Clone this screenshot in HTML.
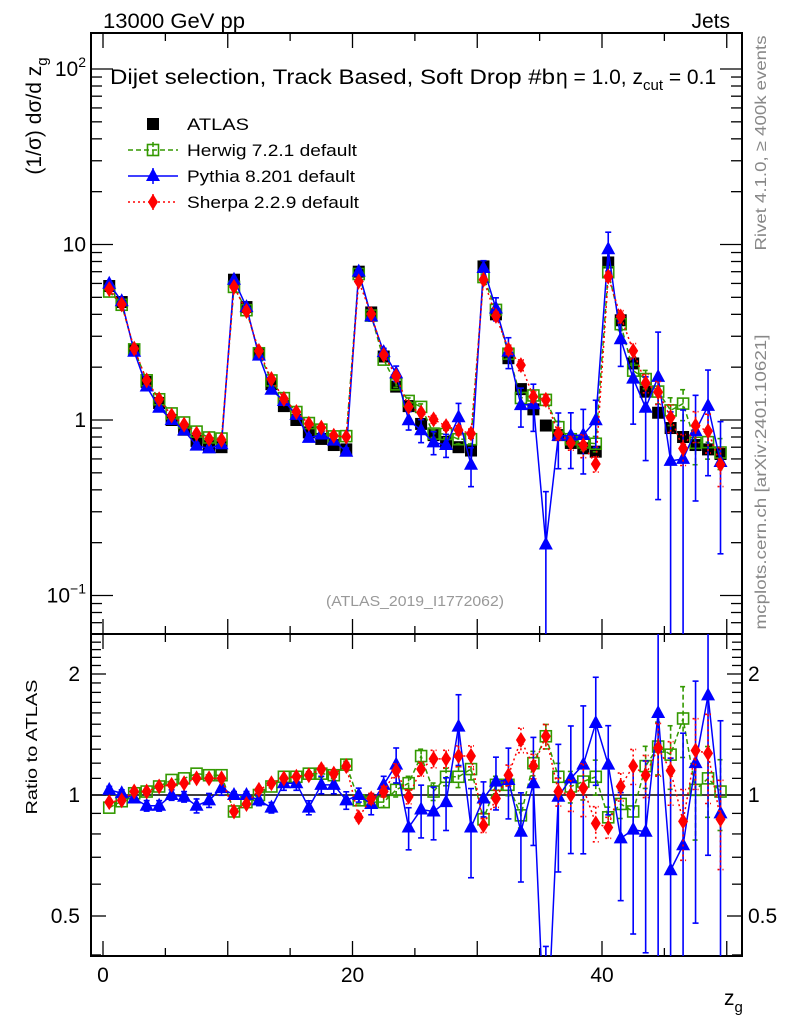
<!DOCTYPE html>
<html><head><meta charset="utf-8"><style>
html,body{margin:0;padding:0;background:#fff;overflow:hidden;width:786px;height:1024px;}
svg{display:block;font-family:"Liberation Sans",sans-serif;overflow:hidden;}
</style></head><body>
<svg id="c" width="786" height="1024" xmlns="http://www.w3.org/2000/svg"></svg>
<script>
const bins = [];
for (let i = 0; i < 50; i++) bins.push(i + 0.5);
const atlasVals = [5.8,4.7,2.5,1.65,1.25,1.0,0.88,0.76,0.71,0.70,
 6.3,4.4,2.4,1.6,1.2,1.0,0.85,0.78,0.72,0.68,
 7.0,4.1,2.3,1.55,1.2,0.95,0.82,0.75,0.70,0.67,
 7.5,4.0,2.25,1.5,1.15,0.93,0.82,0.74,0.69,0.66,
 7.9,3.7,2.1,1.45,1.1,0.9,0.8,0.72,0.68,0.64];
const herwigRatio = [0.93,0.965,1.01,1.02,1.05,1.09,1.10,1.13,1.12,1.12,
 0.91,0.96,1.0,1.05,1.11,1.11,1.13,1.13,1.12,1.19,
 0.97,0.96,0.96,1.03,1.07,1.25,1.02,1.11,1.11,1.16,
 0.87,1.06,1.06,0.89,1.2,1.40,1.11,1.05,1.08,1.11,
 0.88,0.95,0.91,1.18,1.32,1.26,1.55,1.03,1.10,1.02];
const herwigErr = [0.01,0.01,0.01,0.01,0.01,0.01,0.01,0.01,0.01,0.01,
 0.01,0.01,0.01,0.01,0.01,0.01,0.01,0.02,0.02,0.02,
 0.02,0.03,0.03,0.04,0.04,0.04,0.05,0.05,0.06,0.06,
 0.04,0.05,0.06,0.07,0.07,0.07,0.08,0.09,0.1,0.1,
 0.06,0.08,0.1,0.12,0.15,0.18,0.2,0.25,0.2,0.2];
const pythiaRatio = [1.03,1.01,0.98,0.94,0.94,1.0,0.99,0.94,0.97,1.04,
 1.0,1.0,0.97,0.93,1.07,1.07,0.93,1.06,1.06,0.97,
 1.0,0.95,1.06,1.19,0.83,0.92,0.91,0.96,1.48,0.83,
 0.98,1.08,1.09,0.81,1.07,0.21,0.99,1.10,1.19,1.51,
 1.19,0.78,0.82,0.81,1.60,0.65,0.75,1.2,1.77,0.90];
const pythiaErr = [0.02,0.02,0.02,0.03,0.03,0.03,0.03,0.04,0.04,0.04,
 0.02,0.02,0.03,0.03,0.04,0.04,0.04,0.05,0.05,0.05,
 0.04,0.06,0.05,0.1,0.12,0.15,0.15,0.15,0.2,0.25,
 0.1,0.15,0.2,0.25,0.3,1.0,0.35,0.35,0.4,0.3,
 0.25,0.3,0.45,0.5,0.8,0.9,0.9,0.6,0.6,0.7];
const sherpaRatio = [0.96,0.97,1.02,1.02,1.05,1.06,1.07,1.10,1.10,1.10,
 0.91,0.95,1.03,1.07,1.10,1.11,1.12,1.16,1.13,1.18,
 0.88,0.98,1.02,1.15,0.99,1.16,1.23,1.23,1.25,1.25,
 0.84,0.98,1.12,1.37,1.18,1.40,1.02,1.0,1.04,0.85,
 0.83,1.05,1.18,1.12,1.31,1.15,0.86,1.29,1.27,0.87];
const sherpaErr = [0.01,0.01,0.01,0.01,0.01,0.01,0.01,0.01,0.01,0.01,
 0.01,0.01,0.01,0.01,0.01,0.01,0.02,0.02,0.02,0.02,
 0.02,0.03,0.03,0.04,0.04,0.04,0.05,0.05,0.06,0.06,
 0.04,0.05,0.06,0.07,0.07,0.07,0.08,0.09,0.15,0.1,
 0.06,0.08,0.1,0.12,0.15,0.18,0.2,0.2,0.25,0.25];
const xTickLabels = [0,20,40];
const mainTickLabels = [["10","2"],["10",""],["1",""],["10","\u22121"]];
const ratioTickLabels = [2,1,0.5];

const L=91,R=742,T=33,MID=634,B=956;
const X=v=>103+12.475*v;
const Y=v=>420-175.5*Math.log10(v);
const RY=v=>795-121*Math.log2(v);
const svg=document.getElementById('c');
const NS='http://www.w3.org/2000/svg';
function mk(tag,attrs,parent){const e=document.createElementNS(NS,tag);for(const k in attrs)e.setAttribute(k,attrs[k]);(parent||svg).appendChild(e);return e;}
function txt(s,attrs,name,parent){const e=mk('text',attrs,parent);e.textContent=s;return e;}
const clampY=(y,top,bot)=>Math.max(top-1,Math.min(bot+1,y));

const defs=mk('defs',{});
const c1=mk('clipPath',{id:'cm'},defs);mk('rect',{x:L,y:T,width:R-L,height:MID-T},c1);
const c2=mk('clipPath',{id:'cr'},defs);mk('rect',{x:L,y:MID,width:R-L,height:B-MID},c2);

const f1=mk('rect',{x:L,y:T,width:R-L,height:MID-T,fill:'none',stroke:'#000','stroke-width':2});


const f2=mk('rect',{x:L,y:MID,width:R-L,height:B-MID,fill:'none',stroke:'#000','stroke-width':2});



const ticksG=mk('g',{stroke:'#000','stroke-width':1.3});


for(let d=-2;d<=2;d++){for(let m=1;m<10;m++){const v=m*Math.pow(10,d);const y=Y(v);if(y<T||y>MID)continue;const len=m===1?22:11;
mk('line',{x1:L,x2:L+len,y1:y,y2:y},ticksG);mk('line',{x1:R,x2:R-len,y1:y,y2:y},ticksG);}}
for(let v=0.4;v<=2.5;v+=0.1){const y=RY(v);if(y<MID||y>B)continue;const maj=Math.abs(v-0.5)<1e-6||Math.abs(v-1)<1e-6||Math.abs(v-2)<1e-6;const len=maj?15:10;
mk('line',{x1:L,x2:L+len,y1:y,y2:y},ticksG);mk('line',{x1:R,x2:R-len,y1:y,y2:y},ticksG);}
for(let v=0;v<=50;v+=5){const x=X(v);const len=v%10===0?15:8;
[MID,B].forEach(b=>mk('line',{x1:x,x2:x,y1:b,y2:b-len},ticksG));
mk('line',{x1:x,x2:x,y1:T,y2:T+len},ticksG);mk('line',{x1:x,x2:x,y1:MID,y2:MID+len},ticksG);}

[100,10,1,0.1].forEach((v,i)=>{const y=Y(v);const lab=mainTickLabels[i];
const t=txt('',{x:86,y:y+7,'font-size':21,'text-anchor':'end'},'y-tick-label');
const a=mk('tspan',{},t);a.textContent=lab[0];if(lab[1]){const b=mk('tspan',{'font-size':14,dy:-9},t);b.textContent=lab[1];}});
ratioTickLabels.forEach(v=>{const y=RY(v);txt(String(v),{x:80,y:y+7,'font-size':21,'text-anchor':'end'},'ratio-tick-label-left');txt(String(v),{x:748,y:y+7,'font-size':21},'ratio-tick-label-right');});
xTickLabels.forEach(v=>txt(String(v),{x:X(v),y:982,'font-size':21,'text-anchor':'middle'},'x-tick-label'));

const u=mk('line',{x1:L,x2:R,y1:RY(1),y2:RY(1),stroke:'#000','stroke-width':1.5});



function marker(kind,x,y,color,parent){
 if(kind==='sq')return mk('rect',{x:x-6,y:y-6,width:12,height:12,fill:'#000'},parent);
 if(kind==='osq')return mk('rect',{x:x-5.5,y:y-5.5,width:11,height:11,fill:'none',stroke:color,'stroke-width':1.6},parent);
 if(kind==='tri')return mk('polygon',{points:`${x},${y-8} ${x-7},${y+5} ${x+7},${y+5}`,fill:color},parent);
 if(kind==='dia')return mk('polygon',{points:`${x},${y-8} ${x-5},${y} ${x},${y+8} ${x+5},${y}`,fill:color},parent);
}
const series=[
 {name:'herwig',ratio:herwigRatio,err:herwigErr,color:'#339900',kind:'osq',dash:'5,3'},
 {name:'pythia',ratio:pythiaRatio,err:pythiaErr,color:'#0000ff',kind:'tri',dash:''},
 {name:'sherpa',ratio:sherpaRatio,err:sherpaErr,color:'#ff0000',kind:'dia',dash:'2,3'}];

const ag=mk('g',{'clip-path':'url(#cm)'});


atlasVals.forEach((v,i)=>{const m=marker('sq',X(bins[i]),Y(v),'#000',ag);});

series.forEach(s=>{
 [['main','cm',(i)=>atlasVals[i]*s.ratio[i],Y,T,MID],['ratio','cr',(i)=>s.ratio[i],RY,MID,B]].forEach(([pn,clip,val,ys,top,bot])=>{
  const g=mk('g',{'clip-path':`url(#${clip})`});
  
  
  // clamp line vertices inside panel (with interpolation done by clip for visual)
  let pts=bins.map((b,i)=>X(b)+','+ys(val(i))).join(' ');
  const ln=mk('polyline',{points:pts,fill:'none',stroke:s.color,'stroke-width':1.5,'stroke-dasharray':s.dash},g);
  
  
  bins.forEach((b,i)=>{const v=val(i),e=s.err[i]*v;const x=X(b);
   const loRaw=v-e>0?ys(v-e):bot+5;const hiRaw=ys(v+e);
   if(loRaw-hiRaw>6){const lo=clampY(loRaw,top,bot),hi=clampY(hiRaw,top,bot);
    const eb=mk('g',{stroke:s.color,'stroke-width':1.6,'stroke-dasharray':s.dash},g);
    mk('line',{x1:x,x2:x,y1:hi,y2:lo},eb);
    if(hiRaw>=top)mk('line',{x1:x-3,x2:x+3,y1:hi,y2:hi},eb);
    if(loRaw<=bot)mk('line',{x1:x-3,x2:x+3,y1:lo,y2:lo},eb);
    }
   const yv=ys(v);
   if(yv>top-10&&yv<bot+10){const m=marker(s.kind,x,yv,s.color,g);}});
 });
});

const lg=mk('g',{});


const leg=[['ATLAS','sq','#000','',62],['Herwig 7.2.1 default','osq','#339900','5,3',170],['Pythia 8.201 default','tri','#0000ff','',168],['Sherpa 2.2.9 default','dia','#ff0000','2,3',172]];
leg.forEach((l,i)=>{const y=124+26*i;const eg=mk('g',{},lg);
 if(i>0){mk('line',{x1:128,x2:178,y1:y,y2:y,stroke:l[2],'stroke-width':1.5,'stroke-dasharray':l[3]},eg);mk('line',{x1:153,x2:153,y1:y-8,y2:y+8,stroke:l[2],'stroke-width':1.5,'stroke-dasharray':l[3]},eg);}
 marker(l[1],153,y,l[2],eg);txt(l[0],{x:187,y:y+6,'font-size':17,textLength:l[4],lengthAdjust:'spacingAndGlyphs'},'legend-label',eg);});

txt('13000 GeV pp',{x:103,y:28,'font-size':21,textLength:142,lengthAdjust:'spacingAndGlyphs'},'beam-label');
txt('Jets',{x:730,y:28,'font-size':21,'text-anchor':'end'},'process-label');
txt('Dijet selection, Track Based, Soft Drop #b',{x:110,y:84,'font-size':21,textLength:445,lengthAdjust:'spacingAndGlyphs'},'plot-title');
const tt=txt('',{x:556,y:84,'font-size':21},'plot-title-cuts');
let a=mk('tspan',{},tt);a.textContent='\u03b7 = 1.0, z';
a=mk('tspan',{'font-size':15,dy:6},tt);a.textContent='cut';
a=mk('tspan',{dy:-6},tt);a.textContent=' = 0.1';
txt('(ATLAS_2019_I1772062)',{x:415,y:606,'font-size':15,fill:'#999','text-anchor':'middle',textLength:178,lengthAdjust:'spacingAndGlyphs'},'analysis-id');
const yt=txt('',{x:0,y:0,'font-size':21,'text-anchor':'middle',transform:'translate(41,116) rotate(-90)'},'y-axis-title');
a=mk('tspan',{},yt);a.textContent='(1/\u03c3) d\u03c3/d z';a=mk('tspan',{'font-size':15,dy:6},yt);a.textContent='g';
txt('Ratio to ATLAS',{x:0,y:0,'font-size':16,'text-anchor':'middle',textLength:135,lengthAdjust:'spacingAndGlyphs',transform:'translate(37,747) rotate(-90)'},'ratio-axis-title');
const xt=txt('',{x:724,y:1005,'font-size':21},'x-axis-title');
a=mk('tspan',{},xt);a.textContent='z';a=mk('tspan',{'font-size':15,dy:7},xt);a.textContent='g';
txt('Rivet 4.1.0, \u2265 400k events',{x:0,y:0,'font-size':16,fill:'#888','text-anchor':'middle',textLength:215,lengthAdjust:'spacingAndGlyphs',transform:'translate(766,143) rotate(-90)'},'rivet-version-label');
txt('mcplots.cern.ch [arXiv:2401.10621]',{x:0,y:0,'font-size':16,fill:'#888','text-anchor':'middle',textLength:295,lengthAdjust:'spacingAndGlyphs',transform:'translate(766,482) rotate(-90)'},'mcplots-label');
</script>
</body></html>
